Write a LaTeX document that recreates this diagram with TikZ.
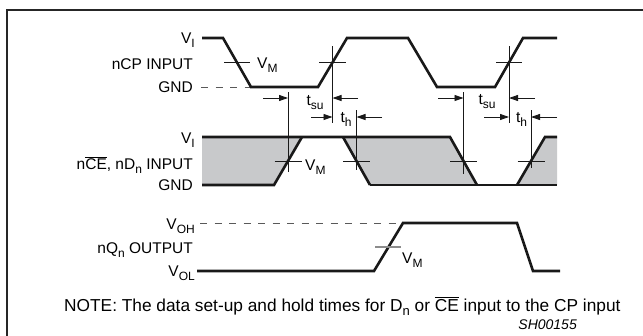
\documentclass[tikz,border=0pt]{standalone}
\usepackage{fontspec}
\setmainfont{Liberation Sans}
\usetikzlibrary{arrows.meta}
\newcommand{\sbs}[1]{\raisebox{-4.2pt}{\fontsize{12}{12}\selectfont #1}}
\newcommand{\sbsn}[1]{\raisebox{-4.6pt}{\fontsize{13}{13}\selectfont #1}}
\definecolor{fillgray}{RGB}{200,201,203}
\begin{document}
\begin{tikzpicture}[x=1pt,y=-1pt,
  wave/.style={line width=2.6pt, line join=miter, draw=black!90},
  thinl/.style={line width=0.9pt, draw=black!90},
  tickm/.style={line width=0.9pt, draw=black!90},
  tickg/.style={line width=1.1pt, draw=black!45},
  dimarrow/.style={line width=0.9pt, draw=black!90, -{Triangle[length=9pt,width=6pt]}},
  lab/.style={inner sep=0pt, font=\fontsize{15.5}{18}\selectfont},
  notelab/.style={inner sep=0pt, font=\fontsize{17.3}{20}\selectfont},
  lvl/.style={line width=0.8pt, draw=black!65, dash pattern=on 7pt off 7.5pt},
  grayfill/.style={fill=fillgray, draw=none}
]
\useasboundingbox (0,0) rectangle (643,335);
% frame
\draw[line width=2.6pt, draw=black!85] (7,345) -- (7,10) -- (655,10);

% ---------- nCP input ----------
\node[lab,anchor=base east] (vi1) at (195,43) {V\sbs{I}};
\node[lab,anchor=base east] (cpin) at (193,69.5) {nCP INPUT};
\node[lab,anchor=base east] (gnd1) at (193,92) {GND};
\draw[lvl] (201,87) -- (251,87);
\draw[wave] (202,38) -- (223,38) -- (251,87) -- (318,87) -- (347,38) -- (408,38) -- (437,87) -- (495,87) -- (523,38) -- (557,38);
\draw[tickm] (224,62.5) -- (250,62.5);
\node[lab,anchor=base west] (vm1) at (257,68) {V\sbs{M}};
\draw[tickm] (319,62.5) -- (346,62.5);
\draw[tickm] (496,62.5) -- (522,62.5);
\draw[thinl] (332.5,46) -- (332.5,123);
\draw[thinl] (509,46) -- (509,123);

% ---------- nCE, nDn input ----------
\node[lab,anchor=base east] (vi2) at (195,143) {V\sbs{I}};
\node[lab,anchor=base east] (din) at (193,169) {n$\overline{\mbox{CE}}$, nD\sbs{n} INPUT};
\node[lab,anchor=base east] (gnd2) at (193,190) {GND};
\fill[grayfill] (202,137) -- (302,137) -- (274,185) -- (202,185) -- cycle;
\fill[grayfill] (343,137) -- (450,137) -- (477,185) -- (370,185) -- cycle;
\fill[grayfill] (517,185) -- (545,137) -- (557,137) -- (557,185) -- cycle;
\draw[wave] (202,137) -- (450,137) -- (477,185);
\draw[wave] (343,137) -- (370,185);
\draw[wave] (202,185) -- (274,185) -- (302,137);
\draw[wave] (370,185) -- (557,185);
\draw[wave] (517,185) -- (545,137) -- (557,137);
\draw[tickm] (274.5,161) -- (301.5,161);
\draw[tickm] (343,161) -- (370,161);
\draw[tickm] (450,161) -- (477,161);
\draw[tickm] (517.5,161) -- (544.5,161);
\node[lab,anchor=base west] (vm2) at (305,170) {V\sbs{M}};
\draw[thinl] (288,92) -- (288,172);
\draw[thinl] (356.5,110) -- (356.5,170);
\draw[thinl] (463.5,92) -- (463.5,174);
\draw[thinl] (531,110) -- (531,168);

% ---------- timing dimensions ----------
\draw[dimarrow] (263,98) -- (288,98);
\draw[dimarrow] (358,98) -- (332.5,98);
\node[lab,anchor=base] (tsu1) at (315,105) {t\sbs{su}};
\draw[dimarrow] (311,117) -- (332.5,117);
\draw[dimarrow] (382,117) -- (356.5,117);
\node[lab,anchor=base] (th1) at (346,122) {t\sbs{h}};
\draw[dimarrow] (438,98) -- (463.5,98);
\draw[dimarrow] (535,98) -- (509,98);
\node[lab,anchor=base] (tsu2) at (487,104) {t\sbs{su}};
\draw[dimarrow] (484,117) -- (509,117);
\draw[dimarrow] (557,117) -- (531,117);
\node[lab,anchor=base] (th2) at (521.5,122) {t\sbs{h}};

% ---------- nQn output ----------
\node[lab,anchor=base east] (voh) at (195,229) {V\sbs{OH}};
\node[lab,anchor=base east] (qout) at (193,253) {nQ\sbs{n} OUTPUT};
\node[lab,anchor=base east] (vol) at (195,276) {V\sbs{OL}};
\draw[lvl] (200,223) -- (403,223);
\draw[wave] (197,271) -- (374,271) -- (403,223) -- (517,223) -- (533,271) -- (560,271);
\draw[tickg] (375,247) -- (401,247);
\node[lab,anchor=base west] (vm3) at (402,263) {V\sbs{M}};

% ---------- note ----------
\node[notelab,anchor=base west] (note) at (64,311) {NOTE: The data set-up and hold times for D\sbsn{n} or $\overline{\mbox{CE}}$ input to the CP input};
\node[inner sep=0pt,anchor=base east,font=\fontsize{14}{16}\selectfont\itshape] (sh) at (577,329) {SH00155};
\end{tikzpicture}
\end{document}
